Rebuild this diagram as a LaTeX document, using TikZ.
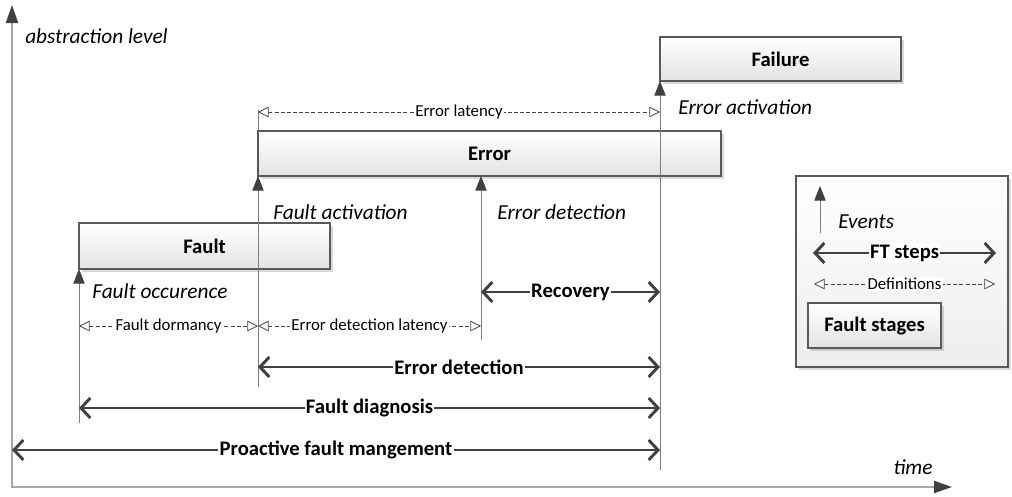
\documentclass[tikz,border=0pt]{standalone}
\usepackage{fontspec}
\setmainfont{Carlito}
\usetikzlibrary{arrows.meta,shadows,calc}

\definecolor{ink}{HTML}{404040}
\definecolor{rulegray}{HTML}{595959}
\definecolor{axisgray}{HTML}{A6A6A6}
\definecolor{linegray}{HTML}{7F7F7F}

\tikzset{
  stage/.style={draw=rulegray, line width=0.9pt, top color=white, bottom color=black!11,
    outer sep=0pt, inner sep=0pt, anchor=north west,
    font=\fontsize{15.5}{18}\selectfont\bfseries,
    drop shadow={shadow xshift=2pt, shadow yshift=-2pt, opacity=0.15, fill=black}},
  legendbox/.style={draw=rulegray, line width=0.9pt, top color=white, bottom color=black!7,
    outer sep=0pt, inner sep=0pt, anchor=north west,
    drop shadow={shadow xshift=2pt, shadow yshift=-2pt, opacity=0.15, fill=black}},
  axisline/.style={draw=axisgray, line width=1.7pt,
    -{Triangle[length=13.5pt,width=9pt,color=ink]}},
  event/.style={draw=linegray, line width=0.75pt,
    -{Triangle[length=11pt,width=8.5pt,color=ink]}},
  vline/.style={draw=linegray, line width=0.75pt},
  ftstep/.style={draw=ink, line width=2.2pt,
    {Straight Barb[length=7pt,width=15pt]}-{Straight Barb[length=7pt,width=15pt]}},
  definition/.style={draw=ink, line width=0.55pt, dash pattern=on 3pt off 1.6pt,
    {Triangle[open,length=8pt,width=8pt,fill=white]}-{Triangle[open,length=8pt,width=8pt,fill=white]}},
  steplabel/.style={fill=white, inner sep=1pt, text=black,
    font=\fontsize{15.5}{18}\selectfont\bfseries},
  deflabel/.style={fill=white, inner sep=1pt, text=black,
    font=\fontsize{12.6}{15}\selectfont},
  eventlabel/.style={anchor=west, inner sep=0pt, text=black,
    font=\fontsize{16}{19}\selectfont\itshape},
}

\begin{document}
\begin{tikzpicture}[x=0.75pt, y=-0.75pt]
\useasboundingbox (0,0) rectangle (1012,496);

% time and abstraction axes
\coordinate (origin) at (12,487);
\coordinate (ytop) at (12,5);
\coordinate (xstart) at (11,487);
\coordinate (xend) at (952,487);
\draw[axisline] (origin) -- (ytop);
\draw[axisline] (xstart) -- (xend);
\node[eventlabel] (ylab) at (25,36) {abstraction level};
\node[inner sep=0pt, font=\fontsize{16}{19}\selectfont\itshape] (xlab) at (913,467) {time};

% lower ends of the event lines
\coordinate (foBase) at (79,423);
\coordinate (faBase) at (258,387);
\coordinate (edBase) at (481,340);
\coordinate (eaBase) at (660,470);
\coordinate (latTick) at (258,110);

% event lines (drawn first, the stage boxes cover them)
\draw[vline] (eaBase) -- (660,81);
\draw[vline] (faBase) -- (258,176);
\draw[vline] (latTick) -- (258,131);

% fault stages
\node[stage, minimum width=180.75pt, minimum height=33pt] (fail) at (660,37) {Failure};
\node[stage, minimum width=347.25pt, minimum height=33.75pt] (err) at (258,131) {Error};
\node[stage, minimum width=188.25pt, minimum height=34.5pt] (fault) at (79,223) {Fault};

% events
\coordinate (edTop) at ($(err.south west)+(223,0)$);
\draw[event] (foBase) -- (fault.south west);
\draw[event] (faBase) -- (err.south west);
\draw[event] (edBase) -- (edTop);
\draw[event] (eaBase) -- (fail.south west);

\node[eventlabel] (lfo) at (92,291) {Fault occurence};
\node[eventlabel] (lfa) at (273,212) {Fault activation};
\node[eventlabel] (led) at (497,212) {Error detection};
\node[eventlabel] (lea) at (678,107) {Error activation};

% definitions
\coordinate (latL) at (258,112);
\coordinate (latR) at (660,112);
\draw[definition] (latL) -- node[deflabel] {Error latency} (latR);
\coordinate (dormL) at (79,326);
\coordinate (dormR) at (258,326);
\coordinate (edlR) at (481,326);
\draw[definition] (dormL) -- node[deflabel] {Fault dormancy} (dormR);
\draw[definition] (dormR) -- node[deflabel] {Error detection latency} (edlR);

% fault tolerance steps
\coordinate (recL) at (481,292);
\coordinate (recR) at (660,292);
\draw[ftstep] (recL) -- node[steplabel] {Recovery} (recR);
\coordinate (edetL) at (258,367);
\coordinate (edetR) at (660,367);
\draw[ftstep] (edetL) -- node[steplabel] {Error detection} (edetR);
\coordinate (fdL) at (79,408);
\coordinate (fdR) at (660,408);
\draw[ftstep] (fdL) -- node[steplabel] {Fault diagnosis} (fdR);
\coordinate (pfmL) at (12,450);
\coordinate (pfmR) at (660,450);
\draw[ftstep] (pfmL) -- node[steplabel] {Proactive fault mangement} (pfmR);

% legend
\node[legendbox, minimum width=159pt, minimum height=143.25pt] (legend) at (796,176) {};
\coordinate (evBase) at (820,233);
\coordinate (evTip) at (820,186);
\draw[event] (evBase) -- (evTip);
\node[eventlabel] (levents) at (838,222) {Events};
\coordinate (ftL) at (813,253);
\coordinate (ftR) at (996,253);
\draw[ftstep] (ftL) -- node[steplabel] {FT steps} (ftR);
\coordinate (defL) at (814,284);
\coordinate (defR) at (995,284);
\draw[definition] (defL) -- node[deflabel] {Definitions} (defR);
\node[stage, minimum width=99.75pt, minimum height=33.75pt] (lstage) at (808,303) {Fault stages};
\end{tikzpicture}
\end{document}
